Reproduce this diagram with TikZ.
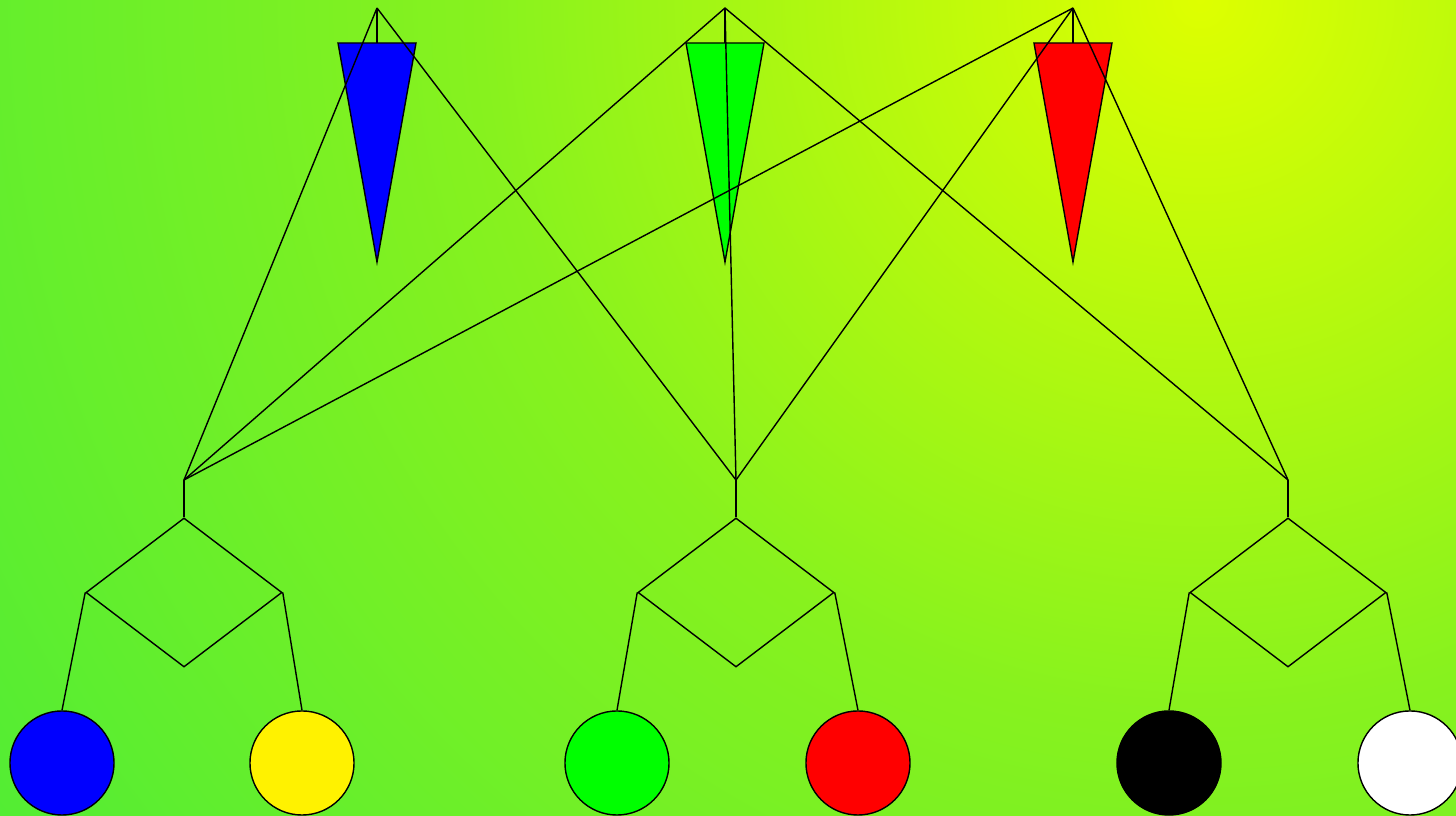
\documentclass[tikz,border=0pt]{standalone}
\usetikzlibrary{shapes.geometric}

\definecolor{glowyellow}{RGB}{222,255,0}
\definecolor{glowmid}{RGB}{135,242,30}
\definecolor{glowgreen}{RGB}{58,234,62}
\pgfdeclareradialshading{bgglow}{\pgfpoint{0bp}{0bp}}{color(0bp)=(glowyellow); color(12bp)=(glowmid); color(30bp)=(glowgreen); color(50bp)=(glowgreen)}

\tikzset{
    ball/.style={circle, draw, minimum size=1.04cm, inner sep=0pt},
    rhomb/.style={diamond, draw, minimum width=1.96cm, minimum height=1.49cm, inner sep=0pt},
    cone/.style={draw}
}

\begin{document}
\begin{tikzpicture}[x=0.01cm, y=-0.01cm]
    \useasboundingbox (0,0) rectangle (1456,816);

    % Background
    \begin{scope}
        \clip (0,0) rectangle (1456,816);
        \shade[shading=bgglow] (1200,0) circle[radius=1500];
    \end{scope}

    % Apex points and cones
    \coordinate (topA) at (377,8);
    \coordinate (topB) at (725,8);
    \coordinate (topC) at (1073,8);

    \coordinate (rimA) at (377,43);
    \coordinate (rimB) at (725,43);
    \coordinate (rimC) at (1073,43);

    \filldraw[cone, fill=blue] (338,43) -- (416,43) -- (377,262) -- cycle;
    \filldraw[cone, fill=green] (686,43) -- (764,43) -- (725,262) -- cycle;
    \filldraw[cone, fill=red] (1034,43) -- (1112,43) -- (1073,262) -- cycle;

    \draw (topA) -- (rimA);
    \draw (topB) -- (rimB);
    \draw (topC) -- (rimC);

    % Junctions
    \coordinate (hubL) at (184,480);
    \coordinate (hubM) at (736,480);
    \coordinate (hubR) at (1288,480);

    % Cross links
    \draw (topA) -- (hubL);
    \draw (topA) -- (hubM);
    \draw (topB) -- (hubL);
    \draw (topB) -- (hubM);
    \draw (topB) -- (hubR);
    \draw (topC) -- (hubL);
    \draw (topC) -- (hubM);
    \draw (topC) -- (hubR);

    % Diamonds
    \node[rhomb] (dL) at (184,592.5) {};
    \node[rhomb] (dM) at (736,592.5) {};
    \node[rhomb] (dR) at (1288,592.5) {};

    \draw (hubL) -- (dL.north);
    \draw (hubM) -- (dM.north);
    \draw (hubR) -- (dR.north);

    % Balls
    \node[ball, fill=blue] (b1) at (62,763) {};
    \node[ball, fill=yellow] (b2) at (302,763) {};
    \node[ball, fill=green] (b3) at (617,763) {};
    \node[ball, fill=red] (b4) at (858,763) {};
    \node[ball, fill=black] (b5) at (1169,763) {};
    \node[ball, fill=white] (b6) at (1410,763) {};

    \draw (dL.west) -- (b1.north);
    \draw (dL.east) -- (b2.north);
    \draw (dM.west) -- (b3.north);
    \draw (dM.east) -- (b4.north);
    \draw (dR.west) -- (b5.north);
    \draw (dR.east) -- (b6.north);
\end{tikzpicture}
\end{document}
